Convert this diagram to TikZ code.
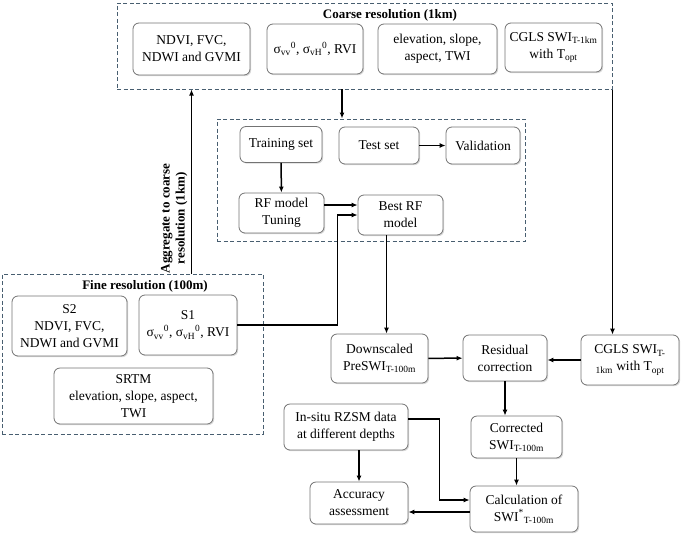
\documentclass[tikz,border=0pt]{standalone}
\usepackage{fontspec}
\setmainfont{Liberation Serif}
\usetikzlibrary{arrows.meta,positioning,shadows}
\definecolor{framecol}{RGB}{72,94,112}
\tikzset{
	box/.style = {draw=white!45!black, rounded corners=6pt, fill=white, align=center, thick, inner sep=2pt,
		font=\fontsize{13.5}{17}\selectfont, drop shadow={shadow xshift=1.2pt,shadow yshift=-1.2pt,opacity=0.3}},
	frame/.style = {draw=framecol, dash pattern=on 4pt off 2.5pt, line width=1pt, inner sep=0pt},
	title/.style = {font=\fontsize{13}{15}\selectfont\bfseries},
	arr/.style = {draw, line width=1.5pt, -{Latex[length=6pt,width=5pt]}}
}

\begin{document}
\begin{tikzpicture}[x=1pt,y=-1pt]
		\useasboundingbox (0,0) rectangle (684,538);
		% dashed frames
		\node (coarse) at (364.5,46) [frame, minimum width=495pt, minimum height=86pt] {};
		\node (inner) at (371,180) [frame, minimum width=308pt, minimum height=122pt] {};
		\node (fine) at (132.5,354) [frame, minimum width=261pt, minimum height=160pt] {};
		\node at (390,15) [title] {Coarse resolution (1km)};
		\node at (145,286) [title] {Fine resolution (100m)};
		% coarse inputs
		\node (cNdvi) at (191.5,49) [box, minimum width=117pt, minimum height=52pt] {NDVI, FVC,\\NDWI and GVMI};
		\node (cSigma) at (315,49) [box, minimum width=96pt, minimum height=50pt] {σ\textsubscript{vv}\textsuperscript{0}, σ\textsubscript{vH}\textsuperscript{0}, RVI};
		\node (cElev) at (437.5,49) [box, minimum width=119pt, minimum height=50pt] {elevation, slope,\\aspect, TWI};
		\node (cCgls) at (553.5,47.5) [box, minimum width=97pt, minimum height=49pt] {CGLS SWI\textsubscript{T-1km}\\with T\textsubscript{opt}};
		% random forest
		\node (train) at (281,144.5) [box, minimum width=82pt, minimum height=36pt] {Training set};
		\node (test) at (379,145.5) [box, minimum width=80pt, minimum height=37pt] {Test set};
		\node (valid) at (483,145.5) [box, minimum width=74pt, minimum height=37pt] {Validation};
		\node (rftune) at (281.5,213) [box, minimum width=85pt, minimum height=40pt] {RF model\\Tuning};
		\node (best) at (400.5,215) [box, minimum width=85pt, minimum height=40pt] {Best RF\\model};
		% fine inputs
		\node (s2) at (69.5,326) [box, minimum width=115pt, minimum height=60pt] {S2\\NDVI, FVC,\\NDWI and GVMI};
		\node (s1) at (188,325) [box, minimum width=98pt, minimum height=60pt] {S1\\σ\textsubscript{vv}\textsuperscript{0}, σ\textsubscript{vH}\textsuperscript{0}, RVI};
		\node (srtm) at (133.5,396) [box, minimum width=159pt, minimum height=56pt] {SRTM\\elevation, slope, aspect,\\TWI};
		% downscaling
		\node (down) at (379.5,358.5) [box, minimum width=97pt, minimum height=49pt] {Downscaled\\PreSWI\textsubscript{T-100m}};
		\node (resid) at (505,358) [box, minimum width=84pt, minimum height=46pt] {Residual\\correction};
		\node (cglsf) at (630,360) [box, minimum width=98pt, minimum height=50pt] {CGLS SWI\textsubscript{T-}\\\textsubscript{1km} with T\textsubscript{opt}};
		\node (corr) at (516.5,437) [box, minimum width=91pt, minimum height=42pt] {Corrected\\SWI\textsubscript{T-100m}};
		\node (insitu) at (346,427) [box, minimum width=124pt, minimum height=46pt] {In-situ RZSM data\\at different depths};
		\node (accur) at (359,503) [box, minimum width=98pt, minimum height=42pt] {Accuracy\\assessment};
		\node (calc) at (524,509) [box, minimum width=108pt, minimum height=46pt] {Calculation of\\SWI\textsuperscript{*}\textsubscript{T-100m}};
		% connectors
		\coordinate (split) at (342,89);
		\path [arr] (cNdvi |- fine.north) -- node [pos=0.3, sloped, above, align=center, title] {Aggregate to coarse\\resolution (1km)} (cNdvi |- coarse.south);
		\path [arr] (split) -- (split |- inner.north);
		\path [arr] (coarse.south east) -- (coarse.south east |- cglsf.north);
		\path [arr] (train) -- (rftune);
		\path [arr] (test) -- (valid);
		\path [arr] ([yshift=8pt]rftune.east) -- ([yshift=8pt]rftune.east -| best.west);
		\path [arr] (s1.east) -- ++(100,0) |- (best.west);
		\path [arr] ([xshift=-14pt]best.south) -- ([xshift=-14pt]best.south |- down.north);
		\path [arr] (down) -- (resid);
		\path [arr] (cglsf.west) -- (cglsf.west -| resid.east);
		\path [arr] (resid.south) -- (resid.south |- corr.north);
		\path [arr] (corr.south) -- (corr.south |- calc.north);
		\path [arr] (accur.north |- insitu.south) -- (accur.north);
		\path [arr] ([yshift=8pt]insitu.east) -- ++(31,0) |- ([yshift=9pt]calc.west);
		\path [arr] ([yshift=-3pt]calc.west) -- ([yshift=-3pt]calc.west -| accur.east);
	\end{tikzpicture}
\end{document}
